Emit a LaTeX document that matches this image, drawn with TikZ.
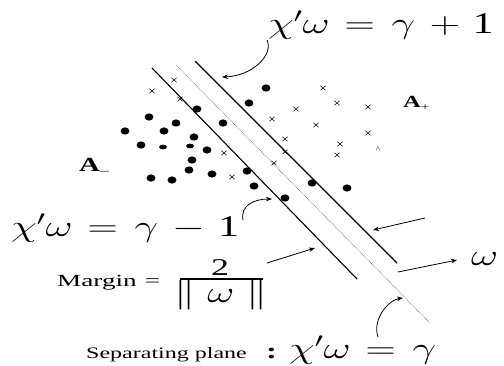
\RequirePackage{fix-cm}
\documentclass[tikz,border=0pt]{standalone}
\usepackage{fontspec}
\setmainfont{Liberation Serif}
\usetikzlibrary{arrows.meta}
\newcommand{\bigeq}[1]{\scalebox{1.4}[1]{\fontsize{30}{30}\selectfont #1}}
\newcommand{\smalltx}[1]{\scalebox{1.5}[1]{\fontsize{16}{16}\selectfont #1}}
\begin{document}
\begin{tikzpicture}[x=1pt,y=-1pt,
  lbl/.style={inner sep=0pt, anchor=base west},
  arr/.style={-{Stealth[length=6pt,width=4.5pt]}, line width=0.8pt},
  bound/.style={line width=1.1pt},
  sepline/.style={line width=0.6pt, densely dotted, black!70},
  dot/.style={fill=black, draw=none},
  cross/.style={line width=0.5pt}]
\useasboundingbox[fill=white] (0,0) rectangle (504,365);

% boundary lines
\coordinate (L1) at (152,68);  \coordinate (L2) at (357,279);
\coordinate (R1) at (195,61);  \coordinate (R2) at (397,263);
\coordinate (S1) at (176,65);  \coordinate (S2) at (430,323);
\draw[bound] (L1) -- (L2);
\draw[bound] (R1) -- (R2);
\draw[sepline] (S1) -- (S2);

% points
\foreach \x/\y in {266/88,249/103,197/109,149/117,176/123,223/123,125/131,164/131,194/137,141/145,207/150,192/160,247/171,189/170,212/174,151/178,172/180,254/186,312/183,347/188,285/198}
  \fill[dot] (\x,\y) ellipse [x radius=4.4, y radius=3.6];
\foreach \x/\y in {163/147,190/146}
  \fill[dot] (\x,\y) ellipse [x radius=4, y radius=2.4];
\foreach \x/\y in {174/80,152/91,180/99,323/88,296/109,337/103,368/107,272/119,316/125,368/133,285/139,340/144,285/152,224/153,337/155,274/163,232/177}
  \draw[cross] (\x-2.6,\y-2.2) -- (\x+2.6,\y+2.2) (\x-2.6,\y+2.2) -- (\x+2.6,\y-2.2);
\node[inner sep=0pt] (caret) at (378,150) {\fontsize{9}{9}\selectfont\textasciicircum};

% labels
\node[lbl] (am) at (79,171) {\scalebox{1.45}[1]{\fontsize{20}{20}\selectfont\textbf{A}\raisebox{-3pt}{\fontsize{12}{12}\selectfont –}}};
\node[lbl] (ap) at (403,107) {\scalebox{1.45}[1]{\fontsize{17}{17}\selectfont\textbf{A}\raisebox{-3pt}{\fontsize{10}{10}\selectfont +}}};

\node[lbl] (top) at (268,33) {\bigeq{$\chi'\omega$\hspace{.35em}$=$\hspace{.4em}$\gamma$\hspace{.35em}$+$\hspace{.3em}1}};
\node[lbl] (low) at (11,236) {\bigeq{$\chi'\omega$\hspace{.35em}$=$\hspace{.4em}$\gamma$\hspace{.35em}$-$\hspace{.3em}1}};
\node[lbl] (margin) at (57,286) {\scalebox{1.6}[1]{\fontsize{17}{17}\selectfont Margin\hspace{.3em}=}};
\node[inner sep=0pt, anchor=base] (num) at (220,275) {\scalebox{1.5}[1]{\fontsize{24}{24}\selectfont 2}};
\coordinate (fb1) at (180,279); \coordinate (fb2) at (263,279);
\draw[line width=1.3pt] (fb1) -- (fb2);
\node[inner sep=0pt, anchor=base] (den) at (221,302) {\scalebox{1.4}[1]{\fontsize{30}{30}\selectfont$\Vert\;\omega\;\Vert$}};
\node[lbl] (sp) at (86,358) {\smalltx{Separating plane}};
\node[lbl] (colon) at (266,358) {\scalebox{1.5}[1]{\fontsize{22}{22}\selectfont\textbf{:}}};
\node[lbl] (plane) at (289,358) {\bigeq{$\chi'\omega$\hspace{.35em}$=$\hspace{.4em}$\gamma$}};
\node[lbl] (w) at (471,265) {\bigeq{$\omega$}};

% arrows
\coordinate (a1s) at (267,40);  \coordinate (a1e) at (222,77);
\draw[arr] (a1s) .. controls (274,55) and (252,76) .. (a1e);
\coordinate (a2s) at (243,220); \coordinate (a2e) at (272,199);
\draw[arr] (a2s) .. controls (240,205) and (255,199) .. (a2e);
\coordinate (a3s) at (378,337); \coordinate (a3e) at (403,298);
\draw[arr] (a3s) .. controls (372,320) and (388,300) .. (a3e);
\coordinate (a4s) at (425,218); \coordinate (a4e) at (373,230);
\draw[arr] (a4s) -- (a4e);
\coordinate (a5s) at (267,263); \coordinate (a5e) at (315,248);
\draw[arr] (a5s) -- (a5e);
\coordinate (a6s) at (398,272); \coordinate (a6e) at (457,260);
\draw[arr] (a6s) -- (a6e);
\end{tikzpicture}
\end{document}
